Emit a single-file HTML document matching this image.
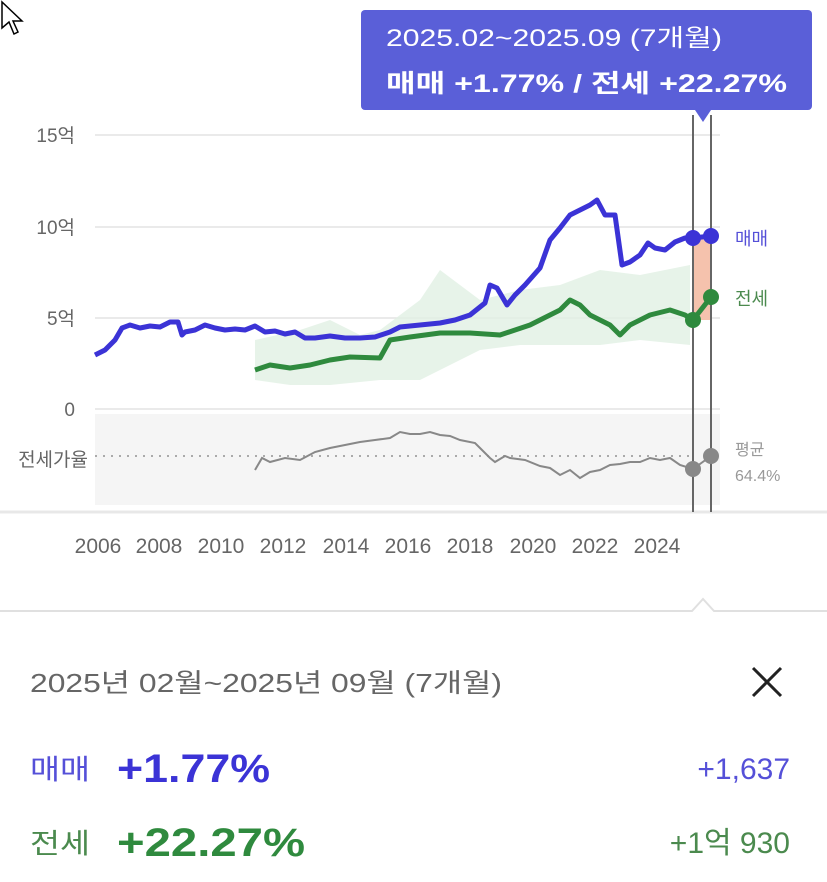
<!DOCTYPE html>
<html><head><meta charset="utf-8"><style>
body{margin:0;width:827px;height:882px;background:#fff;font-family:"Liberation Sans","Noto Sans CJK KR",sans-serif;position:relative;overflow:hidden}
.a{position:absolute;white-space:nowrap}
</style></head><body>
<svg class="a" style="left:0;top:0" width="827" height="882" viewBox="0 0 827 882">
<g stroke="#e4e4e4" stroke-width="1.5">
<line x1="95" y1="135" x2="720" y2="135"/><line x1="95" y1="227" x2="720" y2="227"/><line x1="95" y1="318" x2="720" y2="318"/><line x1="95" y1="409" x2="720" y2="409"/>
</g>
<rect x="95" y="414" width="625" height="91" fill="#f5f5f5"/>
<line x1="0" y1="512" x2="827" y2="512" stroke="#e8e8e8" stroke-width="3"/>
<line x1="95" y1="456" x2="690" y2="456" stroke="#aaa" stroke-width="2" stroke-dasharray="2,6"/>
<g font-size="19" fill="#666" text-anchor="end">
<text x="75" y="142">15억</text><text x="75" y="234">10억</text><text x="75" y="325">5억</text><text x="75" y="416">0</text><text x="88" y="466">전세가율</text>
</g>
<polygon points="255,340 300,330 330,320 360,335 380,330 420,300 440,270 480,300 520,290 560,285 600,270 640,275 690,265 690,345 640,340 600,345 560,345 520,345 480,350 440,370 420,380 380,380 330,385 290,385 255,380" fill="#e1f0e3" opacity="0.8"/>
<rect x="693" y="238" width="18" height="82" fill="#f5c2ad"/>
<polyline fill="none" stroke="#3b33d6" stroke-width="5" stroke-linejoin="round" points="95,355 105,350 115,340 122,328 130,325 140,328 150,326 160,327 170,322 178,322 182,335 185,332 195,330 205,325 215,328 225,330 235,329 245,330 255,326 265,332 275,331 285,334 295,332 305,338 315,338 330,336 345,338 360,338 375,337 390,332 400,327 420,325 440,323 455,320 470,315 485,303 490,285 497,288 507,305 515,295 525,285 540,268 550,240 560,228 570,215 580,210 590,205 597,200 605,215 615,215 622,265 630,262 640,255 648,243 655,248 665,250 675,242 685,238 693,238 711,236"/>
<polyline fill="none" stroke="#2f8a3e" stroke-width="5" stroke-linejoin="round" points="255,370 270,365 290,368 310,365 330,360 350,357 380,358 390,340 410,337 440,333 470,333 500,335 530,325 560,310 570,300 580,305 590,315 600,320 610,325 620,335 630,325 650,315 670,310 685,315 693,320 711,297"/>
<polyline fill="none" stroke="#888" stroke-width="2" points="255,470 262,458 270,462 285,458 300,460 315,452 330,448 345,445 360,442 375,440 390,438 400,432 410,434 420,434 430,432 440,435 450,436 460,440 475,443 480,448 490,458 495,462 505,456 510,458 525,460 540,466 550,468 560,475 570,470 580,478 590,472 600,470 610,465 620,464 630,462 640,462 650,458 660,460 670,458 680,465 693,469 711,456"/>
<g stroke="#666" stroke-width="2"><line x1="693" y1="115" x2="693" y2="512"/><line x1="711" y1="115" x2="711" y2="512"/></g>
<circle cx="693" cy="238" r="8" fill="#3b33d6"/><circle cx="711" cy="236" r="8" fill="#3b33d6"/>
<circle cx="693" cy="320" r="8" fill="#2f8a3e"/><circle cx="711" cy="297" r="8" fill="#2f8a3e"/>
<circle cx="693" cy="469" r="8" fill="#888"/><circle cx="711" cy="456" r="8" fill="#888"/>
<text x="735" y="245" font-size="18" fill="#5550d8">매매</text>
<text x="735" y="305" font-size="18" fill="#4b8a4e">전세</text>
<text x="735" y="455" font-size="16" fill="#999">평균</text>
<text x="735" y="481" font-size="16" fill="#999">64.4%</text>
<rect x="361" y="10" width="451" height="100" rx="4" fill="#5a5fd8"/>
<polygon points="695,110 711,110 703,122" fill="#5a5fd8"/>
<text x="386" y="46" font-size="24" fill="#fff" textLength="336" lengthAdjust="spacingAndGlyphs">2025.02~2025.09 (7개월)</text>
<text x="386" y="92" font-size="25" fill="#fff" font-weight="bold" textLength="401" lengthAdjust="spacingAndGlyphs">매매 +1.77%  /  전세 +22.27%</text>
<g font-size="21" fill="#666" text-anchor="middle">
<text x="98" y="553">2006</text><text x="159" y="553">2008</text><text x="221" y="553">2010</text><text x="283" y="553">2012</text><text x="346" y="553">2014</text><text x="408" y="553">2016</text><text x="470" y="553">2018</text><text x="533" y="553">2020</text><text x="595" y="553">2022</text><text x="657" y="553">2024</text>
</g>
<polyline fill="none" stroke="#e0e0e0" stroke-width="2" points="0,611 692,611 703,599 714,611 827,611"/>
<path d="M2,2 L2,28 L9,22 L14,34 L18,32 L13,21 L22,21 Z" fill="#fff" stroke="#000" stroke-width="1.5"/>
<text x="30" y="692" font-size="26" fill="#666" textLength="472" lengthAdjust="spacingAndGlyphs">2025년 02월~2025년 09월 (7개월)</text>
<g stroke="#222" stroke-width="3"><line x1="753" y1="668" x2="781" y2="696"/><line x1="781" y1="668" x2="753" y2="696"/></g>
<text x="30" y="779" font-size="28" fill="#5550d8" textLength="60" lengthAdjust="spacingAndGlyphs">매매</text>
<text x="117" y="782" font-size="40" font-weight="bold" fill="#3b33d6" textLength="153" lengthAdjust="spacingAndGlyphs">+1.77%</text>
<text x="790" y="779" font-size="30" fill="#5550d8" text-anchor="end">+1,637</text>
<text x="30" y="853" font-size="28" fill="#4b8a4e" textLength="60" lengthAdjust="spacingAndGlyphs">전세</text>
<text x="117" y="856" font-size="40" font-weight="bold" fill="#2f8a3e" textLength="188" lengthAdjust="spacingAndGlyphs">+22.27%</text>
<text x="790" y="853" font-size="30" fill="#4b8a4e" text-anchor="end">+1억 930</text>
</svg>
</body></html>
